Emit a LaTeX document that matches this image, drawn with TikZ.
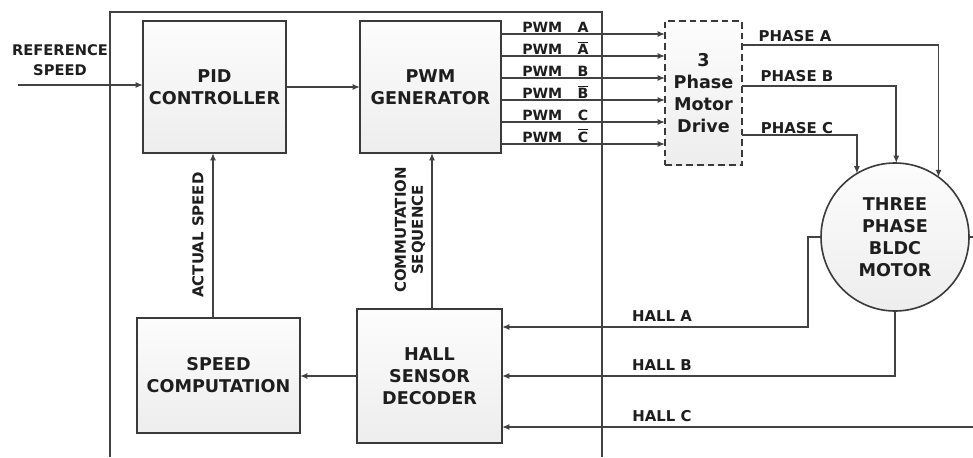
\documentclass[tikz,border=0pt]{standalone}
\usepackage{fontspec}
\setmainfont{DejaVu Sans}
\usetikzlibrary{arrows.meta}
\definecolor{linec}{HTML}{424242}
\definecolor{boxc}{HTML}{3A3A3A}
\definecolor{txtc}{HTML}{1E1E1E}
\newcommand{\myBig}{\fontsize{13.2}{16.5}\selectfont\bfseries}
\newcommand{\myMid}{\fontsize{11.2}{15}\selectfont\bfseries}
\newcommand{\myRef}{\fontsize{11}{15}\selectfont\bfseries}
\newcommand{\mySmall}{\fontsize{10.6}{12}\selectfont\bfseries}
\newcommand{\ovl}[1]{$\overline{\mbox{#1}}$}
\begin{document}
\begin{tikzpicture}[x=0.75pt,y=-0.75pt,
  ln/.style={draw=linec, line width=1.3pt},
  arr/.style={ln, -{Latex[length=5.5pt,width=4.5pt]}},
  box/.style={draw=boxc, line width=1.5pt, top color=gray!2, bottom color=gray!14,
    align=center, font=\myBig, text=txtc, inner sep=0pt, outer sep=0pt},
  lab/.style={text=txtc, font=\myMid, inner sep=0pt, align=center},
  pwmt/.style={text=txtc, font=\mySmall, inner sep=0pt}]
\useasboundingbox (0,0) rectangle (973,457);
\fill[white] (0,0) rectangle (973,457);

% frame
\coordinate (fbl) at (110,457);
\coordinate (ftr) at (602,12);
\coordinate (fbr) at (602,457);
\draw[line width=1.4pt, draw=linec] (fbl) |- (ftr) -- (fbr);

% blocks
\node[box, minimum width=107.25pt, minimum height=99pt] (pid) at (214.5,87) {PID\\CONTROLLER};
\node[box, minimum width=105.75pt, minimum height=99pt] (pwm) at (430.5,87) {PWM\\GENERATOR};
\node[box, dashed, dash pattern=on 5pt off 3pt, line width=1.3pt, minimum width=57.75pt, minimum height=108pt] (drive) at (703.5,93) {3\\Phase\\Motor\\Drive};
\node[box, minimum width=122.25pt, minimum height=86.25pt] (spd) at (218.5,375.5) {SPEED\\COMPUTATION};
\node[box, minimum width=108.75pt, minimum height=100.5pt] (dec) at (429.5,376) {HALL\\SENSOR\\DECODER};
\node[box, circle, line width=1.2pt, minimum size=111pt] (motor) at (895,237) {THREE\\PHASE\\BLDC\\MOTOR};

% reference speed
\node[lab, font=\myRef] (ref) at (60,60) {REFERENCE\\SPEED};
\coordinate (rs) at (18,85);
\draw[arr] (rs) -- (rs -| pid.west);
\draw[arr] (pid.east) -- (pwm.west);

% PWM lines
\foreach \i/\yy/\l in {1/34/A, 2/56/\ovl{A}, 3/78/B, 4/100/\ovl{B}, 5/122/C, 6/144/\ovl{C}}{
  \coordinate (y\i) at (0,\yy);
  \node[pwmt, anchor=base west] (pw\i) at (522,\yy-2) {PWM};
  \node[pwmt, anchor=base] (pl\i) at (583,\yy-2) {\l};
  \draw[arr] (pwm.east |- y\i) -- (drive.west |- y\i);
}

% phases
\coordinate (pa) at (0,45);
\coordinate (pb) at (0,86);
\coordinate (pc) at (0,135);
\draw[arr] (drive.east |- pa) -| (motor.54);
\draw[arr] (drive.east |- pb) -| (motor.89);
\draw[arr] (drive.east |- pc) -| (motor.121);
\node[lab] (phA) at (795,36) {PHASE A};
\node[lab] (phB) at (797,76) {PHASE B};
\node[lab] (phC) at (797,128) {PHASE C};

% motor stub
\coordinate (me) at (973,237);
\draw[ln] (motor.east) -- (me);

% hall lines
\coordinate (ha) at (808,327);
\coordinate (hb) at (0,376);
\coordinate (hc) at (973,427);
\draw[arr] (motor.west) -| (ha) -- (dec.east |- ha);
\draw[arr] (motor.south) |- (dec.east |- hb);
\draw[arr] (hc) -- (dec.east |- hc);
\node[lab] (hA) at (662,316) {HALL A};
\node[lab] (hB) at (662,365) {HALL B};
\node[lab] (hC) at (662,416) {HALL C};

% feedback
\draw[arr] (dec.west) -- (spd.east |- dec.west);
\coordinate (as) at (213,0);
\coordinate (cs) at (432,0);
\draw[arr] (spd.north -| as) -- (pid.south -| as);
\draw[arr] (dec.north -| cs) -- (pwm.south -| cs);
\node[lab, rotate=90] (act) at (198,235) {ACTUAL SPEED};
\node[lab, rotate=90, font=\fontsize{11.2}{12.8}\selectfont\bfseries] (com) at (410,230) {COMMUTATION\\SEQUENCE};
\end{tikzpicture}
\end{document}
